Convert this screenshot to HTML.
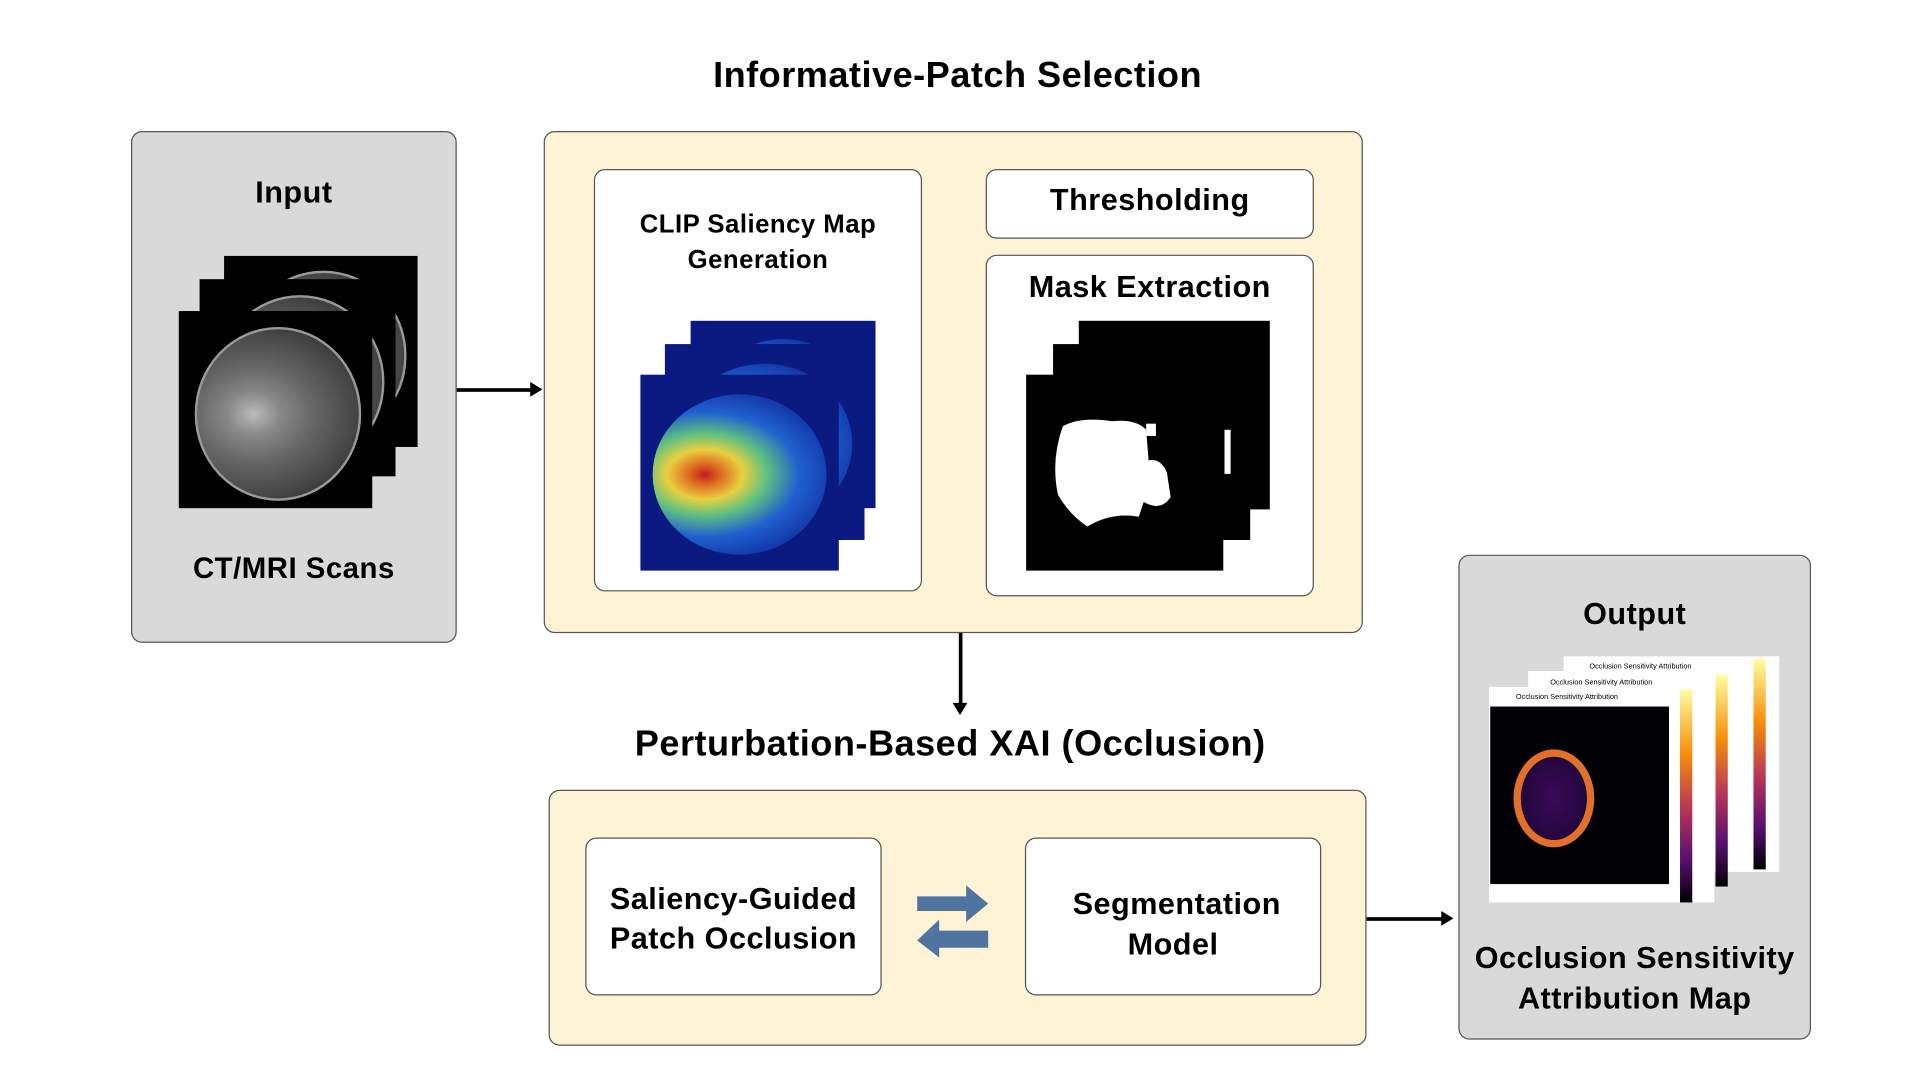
<!DOCTYPE html>
<html><head><meta charset="utf-8"><style>
html,body{margin:0;padding:0;background:#fff;width:1920px;height:1080px;overflow:hidden}
#w{position:absolute;left:0;top:0;width:1568px;height:882px;transform:scale(1.2245);transform-origin:0 0;font-family:"Liberation Sans",sans-serif;font-weight:bold;color:#000}
.a{position:absolute;box-sizing:border-box}
.box{border:1.2px solid #555;border-radius:9px}
.t{position:absolute;text-align:center;white-space:nowrap;transform:translate(-50%,-50%);letter-spacing:0.4px}
.brain{background:#000;overflow:hidden}
.brain::after{content:"";position:absolute;left:8%;top:8%;width:84%;height:86%;border-radius:50%;border:2px solid #999;background:radial-gradient(ellipse at 35% 50%,#bbb 0,#888 18%,#666 40%,#444 70%,#111 100%)}
.heat{background:#0a1a80;overflow:hidden}
.heat::after{content:"";position:absolute;left:6%;top:10%;width:88%;height:82%;border-radius:50%;background:radial-gradient(ellipse at 30% 50%,#c02020 0,#e07020 10%,#e8d040 22%,#60c080 36%,#2060d0 55%,#1030a0 80%,#0a1a80 100%)}
.mask{background:#000}
</style></head><body><div id="w">
<div class="t" style="left:782px;top:62px;font-size:29.5px">Informative-Patch Selection</div>
<div class="a box" style="left:107px;top:107px;width:266px;height:418px;background:#d9d9d9"></div>
<div class="t" style="left:240px;top:158px;font-size:25px">Input</div>
<div class="a brain" style="left:183px;top:209px;width:158px;height:156px"></div>
<div class="a brain" style="left:163px;top:228px;width:160px;height:161px"></div>
<div class="a brain" style="left:146px;top:254px;width:158px;height:161px"></div>
<div class="t" style="left:240px;top:465px;font-size:24px">CT/MRI Scans</div>
<div class="a" style="left:373px;top:317px;width:62px;height:2.5px;background:#000"></div>
<div class="a" style="left:433px;top:312px;width:0;height:0;border-left:10px solid #000;border-top:6px solid transparent;border-bottom:6px solid transparent"></div>
<div class="a box" style="left:444px;top:107px;width:669px;height:410px;background:#fff3d6"></div>
<div class="a box" style="left:485px;top:138px;width:268px;height:345px;background:#fff"></div>
<div class="t" style="left:619px;top:184px;font-size:21px">CLIP Saliency Map</div>
<div class="t" style="left:619px;top:213px;font-size:21px">Generation</div>
<div class="a heat" style="left:564px;top:262px;width:151px;height:153px"></div>
<div class="a heat" style="left:543px;top:281px;width:163px;height:160px"></div>
<div class="a heat" style="left:523px;top:306px;width:162px;height:160px"></div>
<div class="a box" style="left:805px;top:138px;width:268px;height:57px;background:#fff"></div>
<div class="t" style="left:939px;top:164px;font-size:25px">Thresholding</div>
<div class="a box" style="left:805px;top:208px;width:268px;height:279px;background:#fff"></div>
<div class="t" style="left:939px;top:235px;font-size:25px">Mask Extraction</div>
<div class="a mask" style="left:881px;top:262px;width:156px;height:154px"></div>
<div class="a mask" style="left:860px;top:281px;width:161px;height:160px"></div>
<div class="a mask" style="left:838px;top:306px;width:161px;height:160px"></div>
<svg class="a" style="left:838px;top:306px" width="200" height="160"><path d="M30 42 Q45 34 70 38 Q90 36 98 45 L100 70 Q110 68 115 80 L118 100 Q110 112 96 104 L92 116 Q70 112 50 124 Q35 114 26 98 Q20 70 30 42Z" fill="#fff"/><rect x="162" y="45" width="5" height="36" fill="#fff"/><rect x="98" y="40" width="8" height="10" fill="#fff"/></svg>
<div class="a" style="left:783px;top:517px;width:2.5px;height:58px;background:#000"></div>
<div class="a" style="left:778px;top:574px;width:0;height:0;border-top:10px solid #000;border-left:6px solid transparent;border-right:6px solid transparent"></div>
<div class="t" style="left:776px;top:608px;font-size:29.5px">Perturbation-Based XAI (Occlusion)</div>
<div class="a box" style="left:448px;top:645px;width:668px;height:209px;background:#fff3d6"></div>
<div class="a box" style="left:478px;top:684px;width:242px;height:129px;background:#fff"></div>
<div class="t" style="left:599px;top:735px;font-size:25px">Saliency-Guided</div>
<div class="t" style="left:599px;top:767px;font-size:25px">Patch Occlusion</div>
<div class="a box" style="left:837px;top:684px;width:242px;height:129px;background:#fff"></div>
<div class="t" style="left:961px;top:739px;font-size:25px">Segmentation</div>
<div class="t" style="left:958px;top:772px;font-size:25px">Model</div>
<svg class="a" style="left:745px;top:720px" width="66" height="64"><path d="M4 12 H44 V3 L62 18 L44 33 V24 H4Z" fill="#4f74a0"/><path d="M62 40 H22 V31 L4 48 L22 62 V54 H62Z" fill="#4f74a0"/></svg>
<div class="a" style="left:1116px;top:749px;width:62px;height:2.5px;background:#000"></div>
<div class="a" style="left:1177px;top:744px;width:0;height:0;border-left:10px solid #000;border-top:6px solid transparent;border-bottom:6px solid transparent"></div>
<div class="a box" style="left:1191px;top:453px;width:288px;height:396px;background:#d9d9d9"></div>
<div class="t" style="left:1335px;top:502px;font-size:25px">Output</div>
<div class="a" style="left:1277px;top:536px;width:176px;height:176px;background:#fff"></div>
<div class="a" style="left:1432px;top:538px;width:10px;height:172px;background:linear-gradient(#fcffa4,#f98e09 30%,#bc3754 55%,#57106e 80%,#000004)"></div>
<div class="a" style="left:1248px;top:548px;width:150px;height:188px;background:#fff"></div>
<div class="a" style="left:1401px;top:551px;width:10px;height:173px;background:linear-gradient(#fcffa4,#f98e09 30%,#bc3754 55%,#57106e 80%,#000004)"></div>
<div class="a" style="left:1216px;top:561px;width:184px;height:176px;background:#fff"></div>
<div class="a" style="left:1217px;top:577px;width:146px;height:145px;background:#000005"></div>
<div class="a" style="left:1236px;top:612px;width:66px;height:80px;border-radius:50%;border:6px solid #e0702a;box-sizing:border-box;background:radial-gradient(#3a0a5a,#1a0530)"></div>
<div class="a" style="left:1372px;top:563px;width:10px;height:174px;background:linear-gradient(#fcffa4,#f98e09 30%,#bc3754 55%,#57106e 80%,#000004)"></div>
<div class="a" style="left:1238px;top:567px;font-size:6px;font-weight:normal">Occlusion Sensitivity Attribution</div>
<div class="a" style="left:1266px;top:555px;font-size:6px;font-weight:normal">Occlusion Sensitivity Attribution</div>
<div class="a" style="left:1298px;top:542px;font-size:6px;font-weight:normal">Occlusion Sensitivity Attribution</div>
<div class="t" style="left:1335px;top:783px;font-size:25px">Occlusion Sensitivity</div>
<div class="t" style="left:1335px;top:816px;font-size:25px">Attribution Map</div>
</div></body></html>
